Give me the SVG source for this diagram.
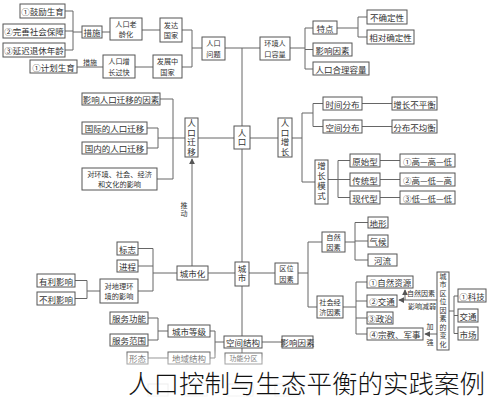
<svg xmlns="http://www.w3.org/2000/svg" width="487" height="400" viewBox="0 0 487 400">
<style>
.b{fill:#fff;stroke:#555;stroke-width:1}
.f{fill:#fff;stroke:#ccc;stroke-width:1}
.t{font-family:"Noto Sans CJK SC","Noto Sans",sans-serif;font-size:8.5px;fill:#333;text-anchor:middle;dominant-baseline:central}
.m{font-size:7.2px}
.s{font-size:7px}
.v{writing-mode:vertical-rl;letter-spacing:1px}
.l{stroke:#666;stroke-width:1;fill:none}
.title{font-family:"Noto Sans CJK SC","Noto Sans",sans-serif;font-size:25.5px;font-weight:300;fill:#111}
</style>
<defs>
<marker id="ah" viewBox="0 0 8 8" refX="7" refY="4" markerWidth="6" markerHeight="6" orient="auto">
<path d="M0,0 L8,4 L0,8 z" fill="#555"/>
</marker>
<linearGradient id="fade" x1="0" y1="0" x2="0" y2="1">
<stop offset="0" stop-color="#fff" stop-opacity="0"/>
<stop offset="0.25" stop-color="#fff" stop-opacity="0.45"/>
<stop offset="1" stop-color="#fff" stop-opacity="0.8"/>
</linearGradient>
</defs>
<rect width="487" height="400" fill="#fff"/>

<g id="connectors">
<path class="l" d="M65,11 H73 M65,31 H73 M65,50 H73 M73,11 V50 M73,32 H82 M102,32 H110 M142,30 H160"/>
<path class="l" d="M77,67 H103 M135,67 H153 M182,30 H192 M182,67 H192 M192,30 V67 M192,48 H202 M225,48 H260"/>
<path class="l" d="M290,48 H305 M305,28 V69 M305,28 H313 M305,49.5 H313 M305,69 H313 M337,28 H358 M358,17 V37 M358,17 H367 M358,37 H367"/>
<path class="l" d="M242,48 V126 M242,149 V262 M242,286 V336 M242,348 V353"/>
<path class="l" d="M158,138 H185 M198,138 H234 M250,138 H278"/>
<path class="l" d="M147,128 H158 M147,148 H158 M158,128 V148 M160,99 H173 M157,179 H173 M173,99 V179"/>
<path class="l" d="M192,266 V159" marker-end="url(#ah)"/>
<path class="l" d="M292,138 H302 M302,113 V182 M302,113 H313 M313,103.5 V126.5 M313,103.5 H323 M313,126.5 H323 M362,103.5 H392 M362,126.5 H392 M302,182 H315"/>
<path class="l" d="M328,179.5 H338 M338,160.5 V197.5 M338,160.5 H350 M338,179.5 H350 M338,197.5 H350 M380,160.5 H400 M380,179.5 H400 M380,197.5 H400"/>
<path class="l" d="M208,273 H235 M177,273 H153 M153,248.5 V291 M138,248.5 H153 M138,266 H153 M138,291 H153 M100,291 H87 M87,280.5 V298.5 M87,280.5 H75 M87,298.5 H75"/>
<path class="l" d="M249,273 H275 M298,273 H308 M308,242 V307 M308,242 H322 M308,307 H317 M345,242 H355 M355,222.5 V260 M355,222.5 H368 M355,241 H368 M355,260 H368"/>
<path class="l" d="M343,307 H356 M356,282 V334 M356,282 H367 M356,301 H367 M356,318 H367 M356,334 H367"/>
<path class="l" d="M449,311 H454 M454,296 V333.5 M454,296 H458 M454,315.5 H458 M454,333.5 H458"/>
<path class="l" d="M437,300 H399" marker-end="url(#ah)"/>
<path class="l" d="M405,300 V290" marker-end="url(#ah)"/>
<path class="l" d="M437,334 H425" marker-end="url(#ah)"/>
<path class="l" d="M262,342 H282 M224,342 H215 M215,331 V358 M215,331 H210 M215,358 H210 M168,331 H158 M158,318 V340 M158,318 H148 M158,340 H148 M168,358 H148"/>
</g>

<g id="n1"><rect class="b" x="20" y="4" width="45" height="14"/><text class="t" x="42.5" y="11">①鼓励生育</text></g>
<g id="n2"><rect class="b" x="3" y="24" width="62" height="14"/><text class="t" x="34" y="31">②完善社会保障</text></g>
<g id="n3"><rect class="b" x="3" y="43" width="62" height="14"/><text class="t" x="34" y="50">③延迟退休年龄</text></g>
<g id="n4"><rect class="b" x="82" y="26" width="20" height="12"/><text class="t" x="92" y="32">措施</text></g>
<g id="n5"><rect class="b" x="110" y="18" width="32" height="22"/><text class="t m" x="126" y="23.8">人口老<tspan x="126" dy="10.5">龄化</tspan></text></g>
<g id="n6"><rect class="b" x="30" y="60" width="47" height="13"/><text class="t" x="53.5" y="66.5">①计划生育</text></g>
<g id="n6l"><text class="t s" x="90" y="62">措施</text></g>
<g id="n7"><rect class="b" x="103" y="55" width="32" height="23"/><text class="t m" x="119" y="61.3">人口增<tspan x="119" dy="10.5">长过快</tspan></text></g>
<g id="n8"><rect class="b" x="160" y="18" width="22" height="24"/><text class="t m" x="171" y="24.8">发达<tspan x="171" dy="10.5">国家</tspan></text></g>
<g id="n9"><rect class="b" x="153" y="55" width="29" height="23"/><text class="t m" x="167.5" y="61.3">发展中<tspan x="167.5" dy="10.5">国家</tspan></text></g>
<g id="n10"><rect class="b" x="202" y="37" width="23" height="23"/><text class="t m" x="213.5" y="43.3">人口<tspan x="213.5" dy="10.5">问题</tspan></text></g>
<g id="n11"><rect class="b" x="260" y="37" width="30" height="23"/><text class="t m" x="275" y="43.3">环境人<tspan x="275" dy="10.5">口容量</tspan></text></g>
<g id="n12"><rect class="b" x="313" y="21" width="24" height="13"/><text class="t" x="325" y="27.5">特点</text></g>
<g id="n13"><rect class="b" x="313" y="43" width="39" height="13"/><text class="t" x="332.5" y="49.5">影响因素</text></g>
<g id="n14"><rect class="b" x="313" y="62" width="56" height="13"/><text class="t" x="341" y="68.5">人口合理容量</text></g>
<g id="n15"><rect class="b" x="367" y="10" width="40" height="14"/><text class="t" x="387" y="17">不确定性</text></g>
<g id="n16"><rect class="b" x="367" y="30" width="47" height="14"/><text class="t" x="390.5" y="37">相对确定性</text></g>

<g id="n17"><rect class="b" x="234" y="126" width="16" height="23"/><text class="t v" x="242" y="138">人口</text></g>
<g id="n18"><rect class="b" x="185" y="118" width="13" height="39"/><text class="t v" x="191.5" y="138">人口迁移</text></g>
<g id="n19"><rect class="b" x="82" y="93" width="78" height="12"/><text class="t" x="121" y="99">影响人口迁移的因素</text></g>
<g id="n20"><rect class="b" x="82" y="122" width="65" height="12"/><text class="t" x="114.5" y="128">国际的人口迁移</text></g>
<g id="n21"><rect class="b" x="82" y="142" width="65" height="12"/><text class="t" x="114.5" y="148">国内的人口迁移</text></g>
<g id="n22"><rect class="b" x="82" y="168" width="75" height="22"/><text class="t m" x="119.5" y="173.8">对环境、社会、经济<tspan x="119.5" dy="10.5">和文化的影响</tspan></text></g>
<g id="n22l"><text class="t s v" x="184" y="210">推动</text></g>

<g id="n23"><rect class="b" x="278" y="118" width="14" height="39"/><text class="t v" x="285" y="138">人口增长</text></g>
<g id="n24"><rect class="b" x="323" y="97" width="39" height="13"/><text class="t" x="342.5" y="103.5">时间分布</text></g>
<g id="n25"><rect class="b" x="323" y="120" width="39" height="13"/><text class="t" x="342.5" y="126.5">空间分布</text></g>
<g id="n26"><rect class="b" x="392" y="97" width="45" height="13"/><text class="t" x="414.5" y="103.5">增长不平衡</text></g>
<g id="n27"><rect class="b" x="392" y="120" width="45" height="13"/><text class="t" x="414.5" y="126.5">分布不均衡</text></g>
<g id="n28"><rect class="b" x="315" y="160" width="13" height="44"/><text class="t v" x="321.5" y="182" style="letter-spacing:1.5px">增长模式</text></g>
<g id="n29"><rect class="b" x="350" y="154" width="30" height="13"/><text class="t" x="365" y="160.5">原始型</text></g>
<g id="n30"><rect class="b" x="350" y="173" width="30" height="13"/><text class="t" x="365" y="179.5">传统型</text></g>
<g id="n31"><rect class="b" x="350" y="191" width="30" height="13"/><text class="t" x="365" y="197.5">现代型</text></g>
<g id="n32"><rect class="b" x="400" y="154" width="55" height="13"/><text class="t" x="427.5" y="160.5">①高—高—低</text></g>
<g id="n33"><rect class="b" x="400" y="173" width="55" height="13"/><text class="t" x="427.5" y="179.5">②高—低—高</text></g>
<g id="n34"><rect class="b" x="400" y="191" width="55" height="13"/><text class="t" x="427.5" y="197.5">③低—低—低</text></g>

<g id="n35"><rect class="b" x="177" y="266" width="31" height="14"/><text class="t" x="192.5" y="273">城市化</text></g>
<g id="n36"><rect class="b" x="235" y="262" width="14" height="24"/><text class="t v" x="242" y="274">城市</text></g>
<g id="n37"><rect class="b" x="117" y="242" width="21" height="13"/><text class="t" x="127.5" y="248.5">标志</text></g>
<g id="n38"><rect class="b" x="117" y="260" width="21" height="12"/><text class="t" x="127.5" y="266">进程</text></g>
<g id="n39"><rect class="b" x="100" y="279" width="38" height="24"/><text class="t m" x="119" y="285.8">对地理环<tspan x="119" dy="10.5">境的影响</tspan></text></g>
<g id="n40"><rect class="b" x="37" y="274" width="38" height="13"/><text class="t" x="56" y="280.5">有利影响</text></g>
<g id="n41"><rect class="b" x="37" y="292" width="38" height="13"/><text class="t" x="56" y="298.5">不利影响</text></g>

<g id="n42"><rect class="b" x="275" y="263" width="23" height="21"/><text class="t m" x="286.5" y="268.3">区位<tspan x="286.5" dy="10.5">因素</tspan></text></g>
<g id="n43"><rect class="b" x="322" y="232" width="23" height="20"/><text class="t m" x="333.5" y="236.8">自然<tspan x="333.5" dy="10.5">因素</tspan></text></g>
<g id="n44"><rect class="b" x="368" y="217" width="20" height="11"/><text class="t" x="378" y="222.5">地形</text></g>
<g id="n45"><rect class="b" x="368" y="235" width="20" height="12"/><text class="t" x="378" y="241">气候</text></g>
<g id="n46"><rect class="b" x="368" y="254" width="29" height="12"/><text class="t" x="382.5" y="260">河流</text></g>
<g id="n47"><rect class="b" x="317" y="296" width="26" height="22"/><text class="t m" x="330" y="301.8">社会经<tspan x="330" dy="10.5">济因素</tspan></text></g>
<g id="n48"><rect class="b" x="367" y="276" width="46" height="12"/><text class="t" x="390" y="282">①自然资源</text></g>
<g id="n49"><rect class="b" x="367" y="295" width="30" height="12"/><text class="t" x="382" y="301">②交通</text></g>
<g id="n50"><rect class="b" x="367" y="312" width="26" height="12"/><text class="t" x="380" y="318">③政治</text></g>
<g id="n51"><rect class="b" x="367" y="328" width="56" height="12"/><text class="t" x="395" y="334">④宗教、军事</text></g>
<g id="n52"><rect class="b" x="437" y="272" width="12" height="78"/><text class="t s v" x="443" y="311" style="letter-spacing:1.5px">城市区位因素的变化</text></g>
<g id="n52l"><text class="t s" x="421" y="293">自然因素<tspan x="422" dy="13">影响减弱</tspan></text><text class="t s" x="430" y="326">加<tspan x="430" dy="16">强</tspan></text></g>
<g id="n53"><rect class="b" x="458" y="289" width="28" height="13"/><text class="t" x="472" y="295.5">①科技</text></g>
<g id="n54"><rect class="b" x="458" y="309" width="20" height="13"/><text class="t" x="468" y="315.5">交通</text></g>
<g id="n55"><rect class="b" x="458" y="327" width="20" height="13"/><text class="t" x="468" y="333.5">市场</text></g>

<g id="n56"><rect class="b" x="224" y="336" width="38" height="12"/><text class="t" x="243" y="342">空间结构</text></g>
<g id="n57"><rect class="b" x="282" y="336" width="31" height="12"/><text class="t" x="297.5" y="342">影响因素</text></g>
<g id="n58"><rect class="b" x="225" y="353" width="37" height="11"/><text class="t s" x="243.5" y="358">功能分区</text></g>
<g id="n59"><rect class="b" x="168" y="325" width="42" height="12"/><text class="t" x="189" y="331">城市等级</text></g>
<g id="n60"><rect class="b" x="168" y="352" width="42" height="12"/><text class="t" x="189" y="358">地域结构</text></g>
<g id="n61"><rect class="b" x="110" y="312" width="38" height="12"/><text class="t" x="129" y="318">服务功能</text></g>
<g id="n62"><rect class="b" x="110" y="334" width="38" height="12"/><text class="t" x="129" y="340">服务范围</text></g>
<g id="n63"><rect class="b" x="127" y="352" width="21" height="12"/><text class="t" x="137.5" y="358">形态</text></g>

<g id="faint">
<rect class="f" x="148" y="384" width="20" height="12"/>
<rect class="f" x="185" y="384" width="22" height="12"/>
<rect class="f" x="228" y="384" width="25" height="12"/>
<rect class="f" x="275" y="384" width="25" height="12"/>
</g>
<rect x="0" y="349" width="487" height="51" fill="url(#fade)"/>
<text class="title" x="128" y="393">人口控制与生态平衡的实践案例</text>
</svg>
